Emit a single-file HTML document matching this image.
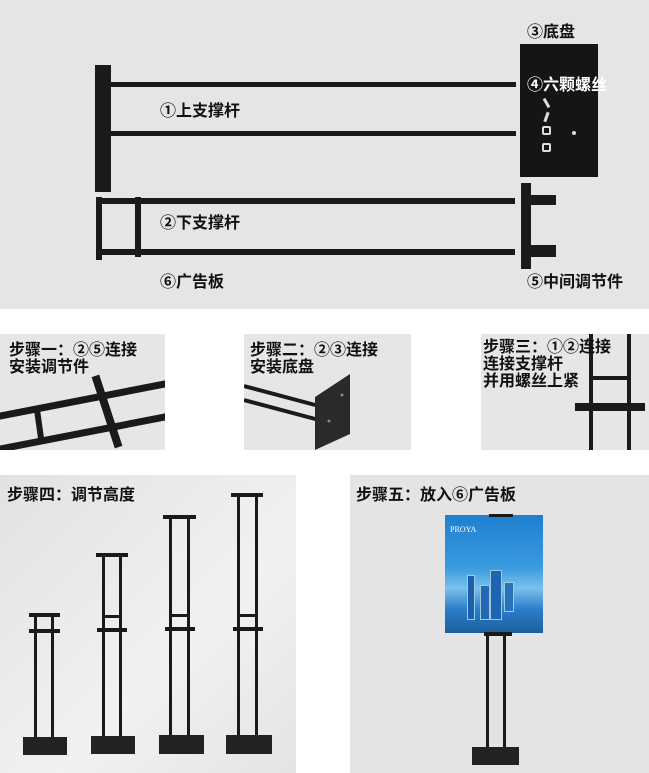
<!DOCTYPE html>
<html><head><meta charset="utf-8"><style>
body{margin:0;width:649px;height:773px;background:#fff;position:relative;overflow:hidden;font-family:"Liberation Sans","Noto Sans CJK SC",sans-serif}
div{position:absolute;box-sizing:border-box}
.b{background:#1a1a1a}
.t{font-weight:bold;font-size:16px;color:#111;white-space:nowrap;line-height:17px}
.p{background:#e6e6e6}
</style></head><body>
<div class="p" style="left:0;top:0;width:649px;height:309px;background:#e5e5e5"></div>
<div class="b" style="left:95px;top:65px;width:16px;height:127px"></div>
<div class="b" style="left:110px;top:82px;width:406px;height:5px"></div>
<div class="b" style="left:110px;top:131px;width:406px;height:5px"></div>
<div class="b" style="left:520px;top:44px;width:78px;height:133px;background:#151515"></div>
<div style="left:545px;top:98px;width:3px;height:10px;background:#ddd;transform:rotate(-30deg)"></div>
<div style="left:545px;top:112px;width:3px;height:10px;background:#ddd;transform:rotate(20deg)"></div>
<div style="left:542px;top:126px;width:9px;height:9px;border:2px solid #ddd;border-radius:2px"></div>
<div style="left:542px;top:143px;width:9px;height:9px;border:2px solid #ddd;border-radius:2px"></div>
<div style="left:572px;top:131px;width:4px;height:4px;background:#ddd;border-radius:2px"></div>
<div class="b" style="left:96px;top:197px;width:6px;height:63px"></div>
<div class="b" style="left:135px;top:197px;width:6px;height:60px"></div>
<div class="b" style="left:96px;top:198px;width:419px;height:6px"></div>
<div class="b" style="left:96px;top:249px;width:419px;height:6px"></div>
<div class="b" style="left:521px;top:183px;width:10px;height:86px"></div>
<div class="b" style="left:530px;top:195px;width:26px;height:10px"></div>
<div class="b" style="left:530px;top:245px;width:26px;height:12px"></div>
<div class="t" style="left:527px;top:24px">③底盘</div>
<div class="t" style="left:527px;top:77px;color:#fff">④六颗螺丝</div>
<div class="t" style="left:160px;top:103px">①上支撑杆</div>
<div class="t" style="left:160px;top:215px">②下支撑杆</div>
<div class="t" style="left:160px;top:274px">⑥广告板</div>
<div class="t" style="left:527px;top:274px">⑤中间调节件</div>

<div class="p" style="left:0;top:334px;width:165px;height:116px;overflow:hidden">
 <div class="b" style="left:-10px;top:62px;width:190px;height:7px;transform:rotate(-11deg)"></div>
 <div class="b" style="left:-10px;top:95px;width:190px;height:7px;transform:rotate(-11deg)"></div>
 <div class="b" style="left:36px;top:72px;width:6px;height:36px;transform:rotate(-8deg)"></div>
 <div class="b" style="left:103px;top:40px;width:8px;height:75px;transform:rotate(-18deg)"></div>
</div>
<div class="t" style="left:9px;top:342px">步骤一：②⑤连接<br>安装调节件</div>
<div class="p" style="left:244px;top:334px;width:167px;height:116px;overflow:hidden">
 <svg width="167" height="116" style="position:absolute;left:0;top:0">
  <line x1="0" y1="52" x2="75" y2="72" stroke="#1a1a1a" stroke-width="4"/>
  <line x1="0" y1="66" x2="75" y2="86" stroke="#1a1a1a" stroke-width="4"/>
  <polygon points="71,63 106,40 106,100 71,116" fill="#2a2a2a"/>
  <circle cx="98" cy="61" r="1.5" fill="#888"/><circle cx="85" cy="87" r="1.5" fill="#888"/>
 </svg>
</div>
<div class="t" style="left:250px;top:342px">步骤二：②③连接<br>安装底盘</div>
<div class="p" style="left:481px;top:334px;width:168px;height:116px;overflow:hidden">
 <div class="b" style="left:108px;top:0;width:4px;height:116px"></div>
 <div class="b" style="left:146px;top:0;width:4px;height:116px"></div>
 <div class="b" style="left:108px;top:42px;width:42px;height:4px"></div>
 <div class="b" style="left:94px;top:69px;width:70px;height:8px"></div>
</div>
<div class="t" style="left:483px;top:339px">步骤三：①②连接<br>连接支撑杆<br>并用螺丝上紧</div>

<div style="left:0;top:475px;width:296px;height:298px;background:linear-gradient(135deg,#e2e2e2,#f1f1f1 60%,#e4e4e4)"></div>
<div class="t" style="left:7px;top:487px">步骤四：调节高度</div>
<div class="b" style="left:29px;top:613px;width:31px;height:4px"></div>
<div class="b" style="left:34px;top:615px;width:3px;height:125px"></div>
<div class="b" style="left:51px;top:615px;width:3px;height:125px"></div>
<div class="b" style="left:29px;top:629px;width:31px;height:4px"></div>
<div class="b" style="left:23px;top:737px;width:44px;height:18px;background:#222"></div>
<div class="b" style="left:96px;top:553px;width:32px;height:4px"></div>
<div class="b" style="left:102px;top:555px;width:3px;height:183px"></div>
<div class="b" style="left:119px;top:555px;width:3px;height:183px"></div>
<div class="b" style="left:102px;top:615px;width:20px;height:3px"></div>
<div class="b" style="left:97px;top:628px;width:30px;height:4px"></div>
<div class="b" style="left:91px;top:736px;width:44px;height:18px;background:#222"></div>
<div class="b" style="left:163px;top:515px;width:33px;height:4px"></div>
<div class="b" style="left:169px;top:517px;width:3px;height:220px"></div>
<div class="b" style="left:187px;top:517px;width:3px;height:220px"></div>
<div class="b" style="left:169px;top:614px;width:20px;height:3px"></div>
<div class="b" style="left:165px;top:627px;width:30px;height:4px"></div>
<div class="b" style="left:159px;top:735px;width:45px;height:19px;background:#222"></div>
<div class="b" style="left:231px;top:493px;width:32px;height:4px"></div>
<div class="b" style="left:237px;top:495px;width:3px;height:242px"></div>
<div class="b" style="left:255px;top:495px;width:3px;height:242px"></div>
<div class="b" style="left:237px;top:614px;width:20px;height:3px"></div>
<div class="b" style="left:233px;top:627px;width:30px;height:4px"></div>
<div class="b" style="left:226px;top:735px;width:46px;height:19px;background:#222"></div>

<div class="p" style="left:350px;top:475px;width:299px;height:298px;background:#e4e4e4"></div>
<div class="t" style="left:356px;top:487px">步骤五：放入⑥广告板</div>
<div style="left:445px;top:515px;width:98px;height:118px;background:linear-gradient(180deg,#1f7fd0 0%,#3a9be0 45%,#7cc0ec 62%,#2a7ec8 80%,#1c5f9c 100%)"></div>
<div style="left:450px;top:525px;color:#fff;font-family:'Liberation Serif',serif;font-size:8px">PROYA</div>
<div style="left:467px;top:575px;width:8px;height:45px;background:#1b5fae;border:1px solid #9cd"></div>
<div style="left:480px;top:585px;width:10px;height:35px;background:#2468b5;border:1px solid #9cd"></div>
<div style="left:490px;top:570px;width:12px;height:50px;background:#1e64b3;border:1px solid #9cd"></div>
<div style="left:504px;top:582px;width:10px;height:30px;background:#2a70bb;border:1px solid #9cd"></div>
<div class="b" style="left:489px;top:514px;width:24px;height:3px"></div>
<div class="b" style="left:484px;top:632px;width:28px;height:4px"></div>
<div class="b" style="left:486px;top:634px;width:3px;height:115px"></div>
<div class="b" style="left:503px;top:634px;width:3px;height:115px"></div>
<div class="b" style="left:472px;top:747px;width:47px;height:18px;background:#222"></div>
</body></html>
